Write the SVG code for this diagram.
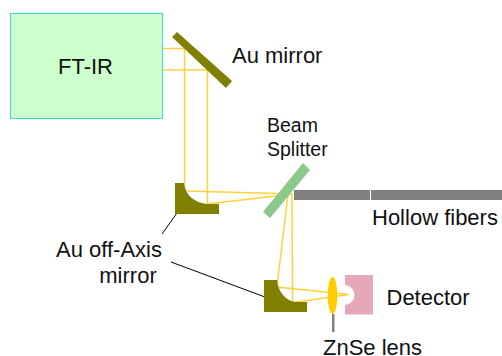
<svg xmlns="http://www.w3.org/2000/svg" width="502" height="356" viewBox="0 0 502 356">
<style>
text{font-family:"Liberation Sans",Arial,sans-serif;font-size:22px;fill:#111}
.b{fill:none;stroke:#ffd23c;stroke-width:1.5}
.m{fill:#808000}
</style>
<g id="ftir"><rect x="10.500" y="13.500" width="152" height="105" fill="#ccffcc" stroke="#40d8d8" stroke-width="1"/><text x="85.500" y="74" text-anchor="middle">FT-IR</text></g>
<g id="connectors">
<path class="b" d="M163 48.500H184M163 70H208"/>
<path class="b" d="M184.500 48V190L186 191L293 194L207 204"/>
<path class="b" d="M207.500 70V204"/>
<path class="b" d="M288 194L277 287L349 294.500L296 302"/>
<path class="b" d="M292 194L292.500 302"/>
<path d="M177 213L162 234" fill="none" stroke="#000" stroke-width="1"/>
<path d="M171 262L265 297" fill="none" stroke="#000" stroke-width="1"/>
</g>
<g id="au-mirror"><polygon class="m" points="177,32 232,81 226,88 172,37"/><text x="232" y="63">Au mirror</text></g>
<g id="beam-splitter"><polygon points="303,163 310,170 270,218 263,212" fill="#8cc88c"/><text x="267" y="132" style="font-size:19.500px">Beam</text><text x="267" y="156" style="font-size:19.500px">Splitter</text></g>
<g id="fibers"><rect x="294" y="190" width="76" height="10" fill="#808080"/><rect x="371" y="190" width="131" height="10" fill="#808080"/><text x="372" y="225">Hollow fibers</text></g>
<g id="off-axis-1"><path class="m" d="M175 183H184C185 195 195 203 207 204H219V214H175Z"/><text x="109" y="257" text-anchor="middle">Au off-Axis</text><text x="128" y="283" text-anchor="middle">mirror</text></g>
<g id="off-axis-2"><path class="m" d="M264 280H277C278 291 285 301 296 302H307V312H264Z"/></g>
<g id="lens"><rect x="332" y="314" width="2.500" height="18" fill="#808080"/><ellipse cx="332.500" cy="295.500" rx="4.800" ry="18.500" fill="#ffcc00"/><text x="323" y="354.500">ZnSe lens</text></g>
<g id="detector"><path d="M345 275H373V314.500H345V305A9.500 10 0 0 0 345 285Z" fill="#e6a8b8"/><text x="386.500" y="305">Detector</text></g>
</svg>
